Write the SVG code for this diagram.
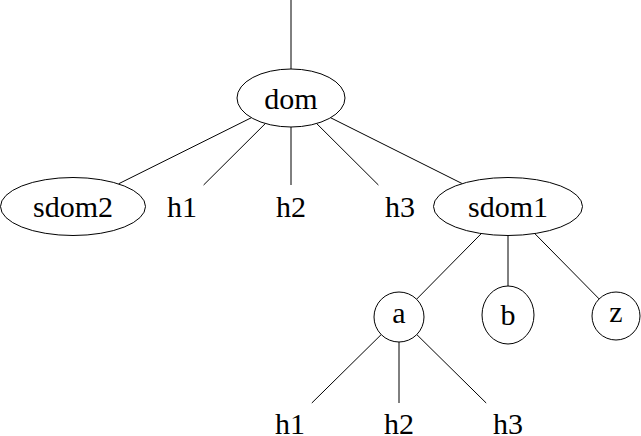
<svg xmlns="http://www.w3.org/2000/svg" width="641" height="436" viewBox="0 0 641 436">
<style>
.n{fill:#fff;stroke:#000;stroke-width:1}
.t{font-family:"Liberation Serif","DejaVu Serif",serif;font-size:30px;text-anchor:middle;fill:#000}
.e line{stroke:#000;stroke-width:1}
</style>
<rect width="641" height="436" fill="#fff"/>
<g class="e" id="connectors">
<line x1="291" y1="0" x2="291" y2="69"/>
<line x1="251.4" y1="117.7" x2="118.6" y2="183.8"/>
<line x1="265.4" y1="123.5" x2="203.6" y2="185"/>
<line x1="291" y1="127" x2="291" y2="185"/>
<line x1="316.6" y1="123.5" x2="378.4" y2="185"/>
<line x1="330.5" y1="117.7" x2="462.2" y2="183.6"/>
<line x1="481.3" y1="233.6" x2="416.6" y2="299.2"/>
<line x1="508" y1="235.5" x2="508" y2="286"/>
<line x1="534.7" y1="233.5" x2="599.1" y2="298.9"/>
<line x1="381.2" y1="334.6" x2="311.8" y2="403"/>
<line x1="399" y1="342" x2="399" y2="403"/>
<line x1="416.8" y1="334.6" x2="486.2" y2="403"/>
</g>
<g id="dom"><ellipse class="n" cx="291" cy="98" rx="54" ry="29"/><text class="t" x="291" y="109">dom</text></g>
<g id="sdom2"><ellipse class="n" cx="73" cy="206.5" rx="72.5" ry="29"/><text class="t" x="73" y="217">sdom2</text></g>
<g id="h1a"><text class="t" x="182" y="217">h1</text></g>
<g id="h2a"><text class="t" x="291" y="217">h2</text></g>
<g id="h3a"><text class="t" x="400" y="217">h3</text></g>
<g id="sdom1"><ellipse class="n" cx="508" cy="206.5" rx="74.5" ry="29"/><text class="t" x="508" y="217">sdom1</text></g>
<g id="a"><circle class="n" cx="399" cy="317" r="25"/><text class="t" x="399" y="323">a</text></g>
<g id="b"><ellipse class="n" cx="508" cy="315" rx="26" ry="29"/><text class="t" x="508" y="325">b</text></g>
<g id="z"><circle class="n" cx="616" cy="316" r="24"/><text class="t" x="616" y="322">z</text></g>
<g id="h1b"><text class="t" x="290" y="434">h1</text></g>
<g id="h2b"><text class="t" x="399" y="434">h2</text></g>
<g id="h3b"><text class="t" x="508" y="434">h3</text></g>
</svg>
